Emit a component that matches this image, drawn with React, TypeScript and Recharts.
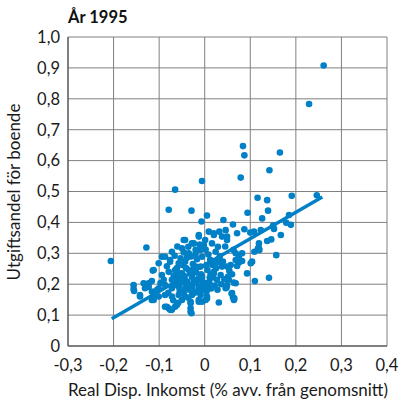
import React from "react";
import { ScatterChart, Scatter, XAxis, YAxis, CartesianGrid, ReferenceLine } from "recharts";

const xTicks = [-0.3, -0.2, -0.1, 0, 0.1, 0.2, 0.3, 0.4];
const yTicks = [0, 0.1, 0.2, 0.3, 0.4, 0.5, 0.6, 0.7, 0.8, 0.9, 1.0];

const titleText = "År 1995";
const xLabel = "Real Disp. Inkomst (% avv. från genomsnitt)";
const yLabel = "Utgiftsandel för boende";

// regression line endpoints [x, y]
const trendLine: [number, number][] = [
  [-0.204, 0.088],
  [0.258, 0.482],
];

// observations [real disp. income deviation, housing expenditure share]
const points: [number, number][] = [
  [0.261, 0.908], [0.229, 0.783], [0.084, 0.647], [0.087, 0.617], [0.165, 0.626], [0.142, 0.569],
  [0.079, 0.545], [-0.006, 0.534], [-0.065, 0.506],
  [0.116, 0.48], [0.137, 0.472], [0.191, 0.486], [0.246, 0.488],
  [-0.079, 0.441], [-0.029, 0.438], [0.005, 0.422], [-0.007, 0.403], [0.041, 0.408], [0.062, 0.393],
  [0.094, 0.431], [0.139, 0.438], [0.126, 0.413], [0.185, 0.424],
  [0.087, 0.378], [0.1, 0.367], [0.123, 0.375], [0.15, 0.39], [0.152, 0.379], [0.167, 0.359],
  [0.146, 0.345], [0.137, 0.34], [0.189, 0.392], [0.179, 0.399],
  [0.119, 0.332], [0.117, 0.316], [0.12, 0.311], [0.109, 0.305], [0.157, 0.294], [0.104, 0.273],
  [0.082, 0.275], [0.075, 0.27], [0.071, 0.259], [0.141, 0.221], [0.11, 0.21], [0.064, 0.205],
  [0.059, 0.17], [0.062, 0.158], [0.031, 0.141],
  [-0.206, 0.275], [-0.128, 0.319], [-0.156, 0.197], [-0.155, 0.178], [-0.114, 0.244],
  [0.009, 0.37], [0.02, 0.359], [0.032, 0.37], [0.046, 0.375], [0.038, 0.354], [0.049, 0.343],
  [0.029, 0.321], [0.016, 0.332], [0.024, 0.305], [0.082, 0.3], [0.075, 0.289], [0.068, 0.278],
  [0.054, 0.243], [0.051, 0.224], [0.04, 0.273], [0.024, 0.268], [0.038, 0.257], [0.02, 0.24],
  [0.035, 0.23], [0.027, 0.214], [0.049, 0.197], [0.046, 0.187], [0.053, 0.214], [0.001, 0.343],
  [-0.002, 0.327], [-0.009, 0.311], [-0.006, 0.289], [-0.009, 0.257], [-0.006, 0.224], [0.002, 0.203],
  [-0.002, 0.181], [-0.009, 0.165], [0.005, 0.16],
  [0.068, 0.203], [0.048, 0.189], [0.06, 0.171], [0.065, 0.154], [0.005, 0.154], [-0.013, 0.143],
  [-0.013, 0.359], [0.02, 0.365], [0.049, 0.354], [0.071, 0.365], [0.108, 0.37], [0.068, 0.3],
  [0.101, 0.268], [0.119, 0.316], [0.093, 0.235], [0.049, 0.257], [0.031, 0.273], [0.02, 0.235],
  [-0.083, 0.127], [-0.076, 0.117], [-0.065, 0.127], [-0.031, 0.111], [-0.029, 0.106], [-0.006, 0.143],
  [-0.112, 0.149], [0.064, 0.149],
  [-0.156, 0.184], [-0.134, 0.203], [-0.116, 0.21], [-0.123, 0.192], [-0.142, 0.165], [-0.105, 0.181],
  [-0.112, 0.165], [-0.079, 0.122], [-0.087, 0.127], [-0.061, 0.133], [-0.05, 0.149], [-0.031, 0.122],
  [-0.031, 0.143],
  [-0.046, 0.343], [-0.024, 0.332], [-0.094, 0.289], [-0.076, 0.273], [-0.094, 0.23],
  [-0.043, 0.343], [-0.028, 0.332], [-0.013, 0.354], [-0.05, 0.316], [-0.035, 0.3], [-0.02, 0.311],
  [-0.087, 0.289], [-0.076, 0.278], [-0.101, 0.268], [-0.057, 0.268], [-0.043, 0.273], [-0.112, 0.246],
  [-0.079, 0.24], [-0.065, 0.246], [-0.05, 0.235], [-0.035, 0.246], [-0.02, 0.257],
  [-0.072, 0.214], [-0.057, 0.219], [-0.043, 0.214], [-0.028, 0.224], [-0.013, 0.219], [-0.087, 0.197],
  [-0.123, 0.203], [-0.131, 0.187], [-0.116, 0.176], [-0.101, 0.187], [-0.072, 0.187], [-0.057, 0.192],
  [-0.043, 0.187], [-0.028, 0.197], [-0.013, 0.192], [-0.142, 0.16], [-0.116, 0.149], [-0.101, 0.16],
  [-0.087, 0.165], [-0.072, 0.16], [-0.057, 0.165], [-0.043, 0.16], [-0.028, 0.165], [-0.072, 0.117],
  [-0.031, 0.138], [-0.013, 0.149], [0.002, 0.149],
  [-0.052, 0.205], [-0.047, 0.228], [-0.038, 0.208], [-0.034, 0.182], [-0.024, 0.214], [-0.019, 0.238],
  [-0.015, 0.176], [-0.008, 0.232], [-0.004, 0.198], [0.006, 0.246], [0.011, 0.221], [0.014, 0.186],
  [0.017, 0.262], [0.012, 0.279], [0.008, 0.296], [-0.017, 0.281], [-0.026, 0.265], [-0.039, 0.286],
  [-0.061, 0.252], [-0.068, 0.228], [-0.064, 0.198], [-0.055, 0.178], [-0.046, 0.17], [-0.036, 0.156],
  [-0.022, 0.172], [-0.009, 0.186], [0.004, 0.176], [0.01, 0.206], [0.022, 0.196], [0.018, 0.222],
  [-0.041, 0.252], [-0.03, 0.29], [-0.02, 0.298], [-0.053, 0.284], [-0.066, 0.292], [-0.083, 0.258],
  [-0.09, 0.214], [-0.097, 0.204], [-0.08, 0.172], [-0.069, 0.148], [-0.058, 0.14], [0.028, 0.182],
  [0.036, 0.2], [0.043, 0.216], [0.06, 0.232], [0.057, 0.262], [0.063, 0.311], [0.045, 0.322],
  [0.033, 0.29], [0.002, 0.312], [-0.011, 0.328], [-0.036, 0.321], [-0.06, 0.322], [-0.072, 0.305],
  [-0.046, 0.303],
  [-0.018, 0.205], [-0.006, 0.212], [0.013, 0.232], [0.004, 0.262], [-0.024, 0.248], [-0.049, 0.262],
  [-0.058, 0.236], [-0.04, 0.198], [-0.027, 0.186], [0.008, 0.192], [0.025, 0.252], [-0.063, 0.212],
];

const data = points.map(([x, y]) => ({ x, y }));
const lineSegment = trendLine.map(([x, y]) => ({ x, y }));

const FONT = "Lato, 'Noto Sans', sans-serif";
const BLUE = "#0080c6";
const GRID = "#808080";

const fmt = (v: number) => (Math.abs(v) < 1e-9 ? "0" : v.toFixed(1).replace(".", ","));

const Dot = (props: any) => <circle cx={props.cx} cy={props.cy} r={3.3} fill={BLUE} />;

export default function App() {
  return (
    <div style={{ position: "absolute", left: 0, top: 0, width: 400, height: 404, fontFamily: FONT, background: "#fff" }}>
      <ScatterChart width={400} height={404} margin={{ top: 37, right: 13, bottom: 28, left: 30 }}>
        <CartesianGrid stroke={GRID} strokeWidth={1} />
        <XAxis
          type="number"
          dataKey="x"
          domain={[-0.3, 0.4]}
          ticks={xTicks}
          tickFormatter={fmt}
          height={30}
          tickLine={false}
          tickMargin={7}
          axisLine={{ stroke: "#404040" }}
          tick={{ fill: "#1a1a1a", fontSize: 16.5, fontFamily: FONT }}
          interval={0}
          allowDataOverflow
        />
        <YAxis
          type="number"
          dataKey="y"
          domain={[0, 1]}
          ticks={yTicks}
          tickFormatter={fmt}
          width={38}
          tickLine={false}
          axisLine={{ stroke: "#404040" }}
          tick={{ fill: "#1a1a1a", fontSize: 16.5, fontFamily: FONT }}
          interval={0}
          allowDataOverflow
        />
        <ReferenceLine segment={lineSegment} stroke={BLUE} strokeWidth={3.5} />
        <Scatter data={data} fill={BLUE} shape={Dot} isAnimationActive={false} />
      </ScatterChart>
      <div style={{ position: "absolute", left: 68, top: 6, fontSize: 16.5, fontWeight: 700, color: "#111", lineHeight: "22px" }}>
        {titleText}
      </div>
      <div style={{ position: "absolute", left: 0, width: 456, top: 380, textAlign: "center", fontSize: 17, color: "#1a1a1a", lineHeight: "20px", whiteSpace: "nowrap" }}>
        {xLabel}
      </div>
      <div
        style={{
          position: "absolute",
          left: 14,
          top: 192,
          transform: "translate(-50%, -50%) rotate(-90deg)",
          whiteSpace: "nowrap",
          fontSize: 17,
          color: "#1a1a1a",
          lineHeight: "20px",
        }}
      >
        {yLabel}
      </div>
    </div>
  );
}
